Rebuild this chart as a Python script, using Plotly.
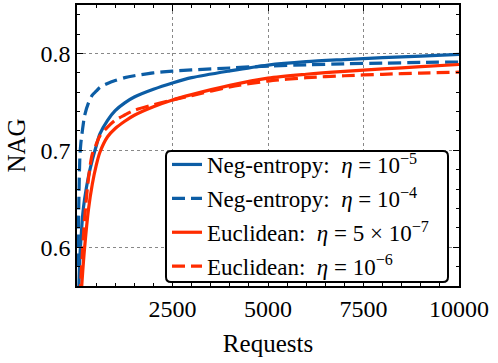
import plotly.graph_objects as go

requests = [25, 50, 75, 100, 150, 200, 300, 400, 500, 600, 800, 1000, 1250, 1500,
            2000, 2500, 3000, 4000, 5000, 6000, 7000, 8000, 9000, 10000]

negent_1e5 = [0.510, 0.560, 0.590, 0.606, 0.634, 0.650, 0.673, 0.690, 0.704, 0.717, 0.731, 0.741,
              0.749, 0.755, 0.763, 0.7695, 0.775, 0.782, 0.7880, 0.7915, 0.7937, 0.7957, 0.7973, 0.7990]
negent_1e4 = [0.580, 0.650, 0.693, 0.707, 0.723, 0.736, 0.749, 0.757, 0.761, 0.765, 0.769, 0.772,
              0.775, 0.777, 0.780, 0.7817, 0.783, 0.785, 0.787, 0.7882, 0.7893, 0.7900, 0.7907, 0.7912]
eucl_5e7 = [0.450, 0.490, 0.520, 0.545, 0.575, 0.600, 0.639, 0.665, 0.684, 0.698, 0.714, 0.7225,
            0.730, 0.7362, 0.745, 0.752, 0.7575, 0.767, 0.7745, 0.7785, 0.7815, 0.7840, 0.7863, 0.7886]
eucl_1e6 = [0.470, 0.510, 0.540, 0.565, 0.600, 0.630, 0.671, 0.696, 0.706, 0.715, 0.724, 0.731,
            0.7365, 0.7413, 0.747, 0.752, 0.7565, 0.7655, 0.7715, 0.7750, 0.7770, 0.7785, 0.7797, 0.7807]

labels = ["Neg-entropy:  <i>η</i> = 10<sup>−5</sup>",
          "Neg-entropy:  <i>η</i> = 10<sup>−4</sup>",
          "Euclidean:  <i>η</i> = 5 × 10<sup>−7</sup>",
          "Euclidean:  <i>η</i> = 10<sup>−6</sup>"]

x_ticks = [2500, 5000, 7500, 10000]
y_ticks = [0.6, 0.7, 0.8]

BLUE = "#0C5DA5"
RED = "#FF2C00"
DASH = "13px,6px"
FONT = "Liberation Serif, DejaVu Serif, serif"

series = [(negent_1e5, BLUE, "solid"), (negent_1e4, BLUE, DASH),
          (eucl_5e7, RED, "solid"), (eucl_1e6, RED, DASH)]

fig = go.Figure()
for i, ((vals, col, dash), lab) in enumerate(zip(series, labels)):
    fig.add_trace(go.Scatter(x=requests, y=vals, mode="lines", name=lab,
                             legendgroup=f"g{i}",
                             line=dict(color=col, width=3.2, dash=dash, shape="spline", smoothing=0.8)))

W, H = 498, 363
L, R, T, B = 77, 39, 5, 77
pw, ph = W - L - R, H - T - B

def px2paper(x, y):
    return (x - L) / pw, 1 - (y - T) / ph

# rounded legend frame
x0, y0, x1, y1 = 166, 151, 448, 282
r = 5
rx, ry = r / pw, r / ph
X0, Y0 = px2paper(x0, y0)
X1, Y1 = px2paper(x1, y1)
path = (f"M {X0+rx},{Y0} L {X1-rx},{Y0} Q {X1},{Y0} {X1},{Y0-ry} "
        f"L {X1},{Y1+ry} Q {X1},{Y1} {X1-rx},{Y1} "
        f"L {X0+rx},{Y1} Q {X0},{Y1} {X0},{Y1+ry} "
        f"L {X0},{Y0-ry} Q {X0},{Y0} {X0+rx},{Y0} Z")
fig.add_shape(type="path", path=path, xref="paper", yref="paper",
              fillcolor="white", line=dict(color="black", width=2), layer="above")

lx, ly = px2paper(167, 143)

axis_common = dict(showline=True, linecolor="black", linewidth=1.5, mirror="ticks",
                   ticks="inside", ticklen=6, tickwidth=1.2, tickcolor="black",
                   showgrid=True, gridcolor="#888888", griddash="dot", gridwidth=1.2,
                   zeroline=False, automargin=False,
                   tickfont=dict(family=FONT, size=24, color="black"))

fig.update_layout(
    width=W, height=H,
    margin=dict(l=L, r=R, t=T, b=B, autoexpand=False),
    paper_bgcolor="white", plot_bgcolor="white",
    font=dict(family=FONT, size=22, color="black"),
    xaxis=dict(range=[0, 10000], tickmode="array", tickvals=x_ticks,
               ticktext=[str(v) for v in x_ticks],
               minor=dict(tickmode="linear", tick0=0, dtick=500, ticks="inside", ticklen=3.5,
                          tickwidth=1.1, tickcolor="black", showgrid=False),
               title=dict(text="Requests", font=dict(family=FONT, size=25), standoff=14),
               **axis_common),
    yaxis=dict(range=[0.56, 0.85], tickmode="array", tickvals=y_ticks,
               ticktext=["0.6", "0.7", "0.8"],
               minor=dict(tickmode="linear", tick0=0, dtick=0.02, ticks="inside", ticklen=3.5,
                          tickwidth=1.1, tickcolor="black", showgrid=False),
               title=dict(text="NAG", font=dict(family=FONT, size=25), standoff=8),
               **axis_common),
    legend=dict(x=lx, y=ly, xanchor="left", yanchor="top", bgcolor="rgba(0,0,0,0)",
                borderwidth=0, font=dict(family=FONT, size=23), tracegroupgap=1,
                itemwidth=30),
    showlegend=True,
)

fig.write_html("out.html", config={"displayModeBar": False},
               post_script="document.body.style.margin='0';")
